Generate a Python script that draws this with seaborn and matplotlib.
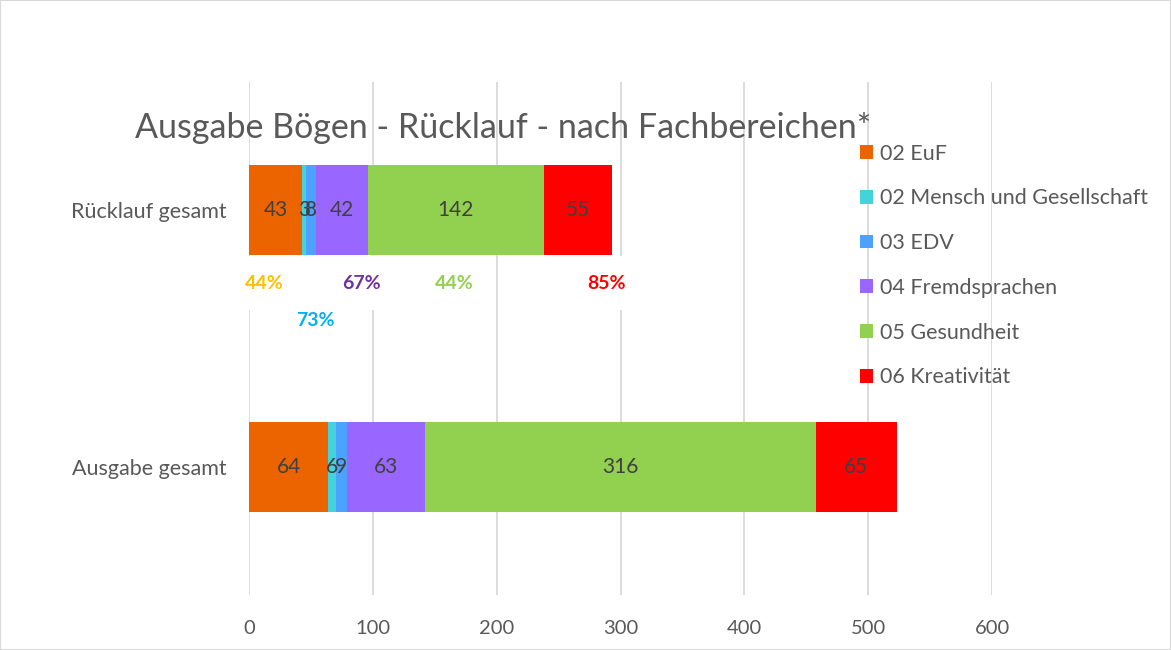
#!/usr/bin/env python3

import pandas as pd
from matplotlib import pyplot as plt
from matplotlib.patches import Patch, Rectangle
import seaborn as sns

categories = ["Rücklauf gesamt", "Ausgabe gesamt"]
areas = ["02 EuF", "02 Mensch und Gesellschaft", "03 EDV",
         "04 Fremdsprachen", "05 Gesundheit", "06 Kreativität"]
ruecklauf = [43, 3, 8, 42, 142, 55]
ausgabe = [64, 6, 9, 63, 316, 65]
palette = ["#eb6400", "#44d3db", "#4ba3ff", "#9966ff", "#92d050", "#ff0000"]

# hand-placed return-rate notes under the top bar
quote_labels = ["44%", "73%", "67%", "44%", "85%"]
quote_colors = ["#ffc000", "#00b0f0", "#7030a0", "#92d050", "#ff0000"]
quote_x = [12, 54, 91, 166, 289]
quote_y = [0.285, 0.43, 0.285, 0.285, 0.285]

title = "Ausgabe Bögen - Rücklauf - nach Fachbereichen*"
text_color = "#595959"

df = pd.DataFrame({
    "category": [categories[0]] * len(areas) + [categories[1]] * len(areas),
    "area": areas * 2,
    "value": ruecklauf + ausgabe,
})
df["cum"] = df.groupby("category")["value"].cumsum()

sns.set_style("white")
plt.rcParams["font.family"] = ["Lato", "DejaVu Sans"]

fig = plt.figure(figsize=(11.71, 6.5), dpi=100)
ax = fig.add_axes([249 / 1171, 55 / 650, 743 / 1171, 513 / 650])

# stacked bars: draw cumulative totals from the last segment backwards
for area, col in reversed(list(zip(areas, palette))):
    sns.barplot(data=df[df["area"] == area], x="cum", y="category",
                order=categories, orient="h", color=col, saturation=1,
                width=0.35, linewidth=0, ax=ax, zorder=2)

for _, row in df.iterrows():
    ax.text(row["cum"] - row["value"] / 2, categories.index(row["category"]),
            str(row["value"]), ha="center", va="center",
            fontsize=15, color="#404040", zorder=3)

for lab, col, x, y in zip(quote_labels, quote_colors, quote_x, quote_y):
    ax.text(x, y, lab, ha="center", va="center", fontsize=14,
            fontweight="bold", color=col, zorder=4,
            bbox=dict(boxstyle="square,pad=0.95", facecolor="white", edgecolor="none"))

ax.set_xlim(0, 600)
ax.set_ylim(1.5, -0.5)
ax.set_xticks(range(0, 601, 100))
ax.xaxis.grid(True, color="#d9d9d9", linewidth=1.3)
ax.set_axisbelow(True)
ax.set_xlabel("")
ax.set_ylabel("")
for s in ax.spines.values():
    s.set_visible(False)
ax.tick_params(axis="x", length=0, pad=18, labelsize=14.5, labelcolor=text_color)
ax.tick_params(axis="y", length=0, pad=16, labelsize=15.5, labelcolor=text_color)

fig.text(503 / 1171, 1 - 128 / 650, title, ha="center", va="center",
         fontsize=24.5, color=text_color)

handles = [Patch(facecolor=c, edgecolor="none", label=a) for a, c in zip(areas, palette)]
fig.legend(handles=handles, loc="upper left", bbox_to_anchor=(851 / 1171, 1 - 135 / 650),
           frameon=False, fontsize=15.5, labelcolor=text_color, labelspacing=1.15,
           handlelength=0.6, handleheight=0.6, handletextpad=0.35, borderaxespad=0)

fig.patches.append(Rectangle((0, 0), 1, 1, transform=fig.transFigure, fill=False,
                             edgecolor="#d9d9d9", linewidth=1.5))

plt.savefig("out.png", dpi=100)
